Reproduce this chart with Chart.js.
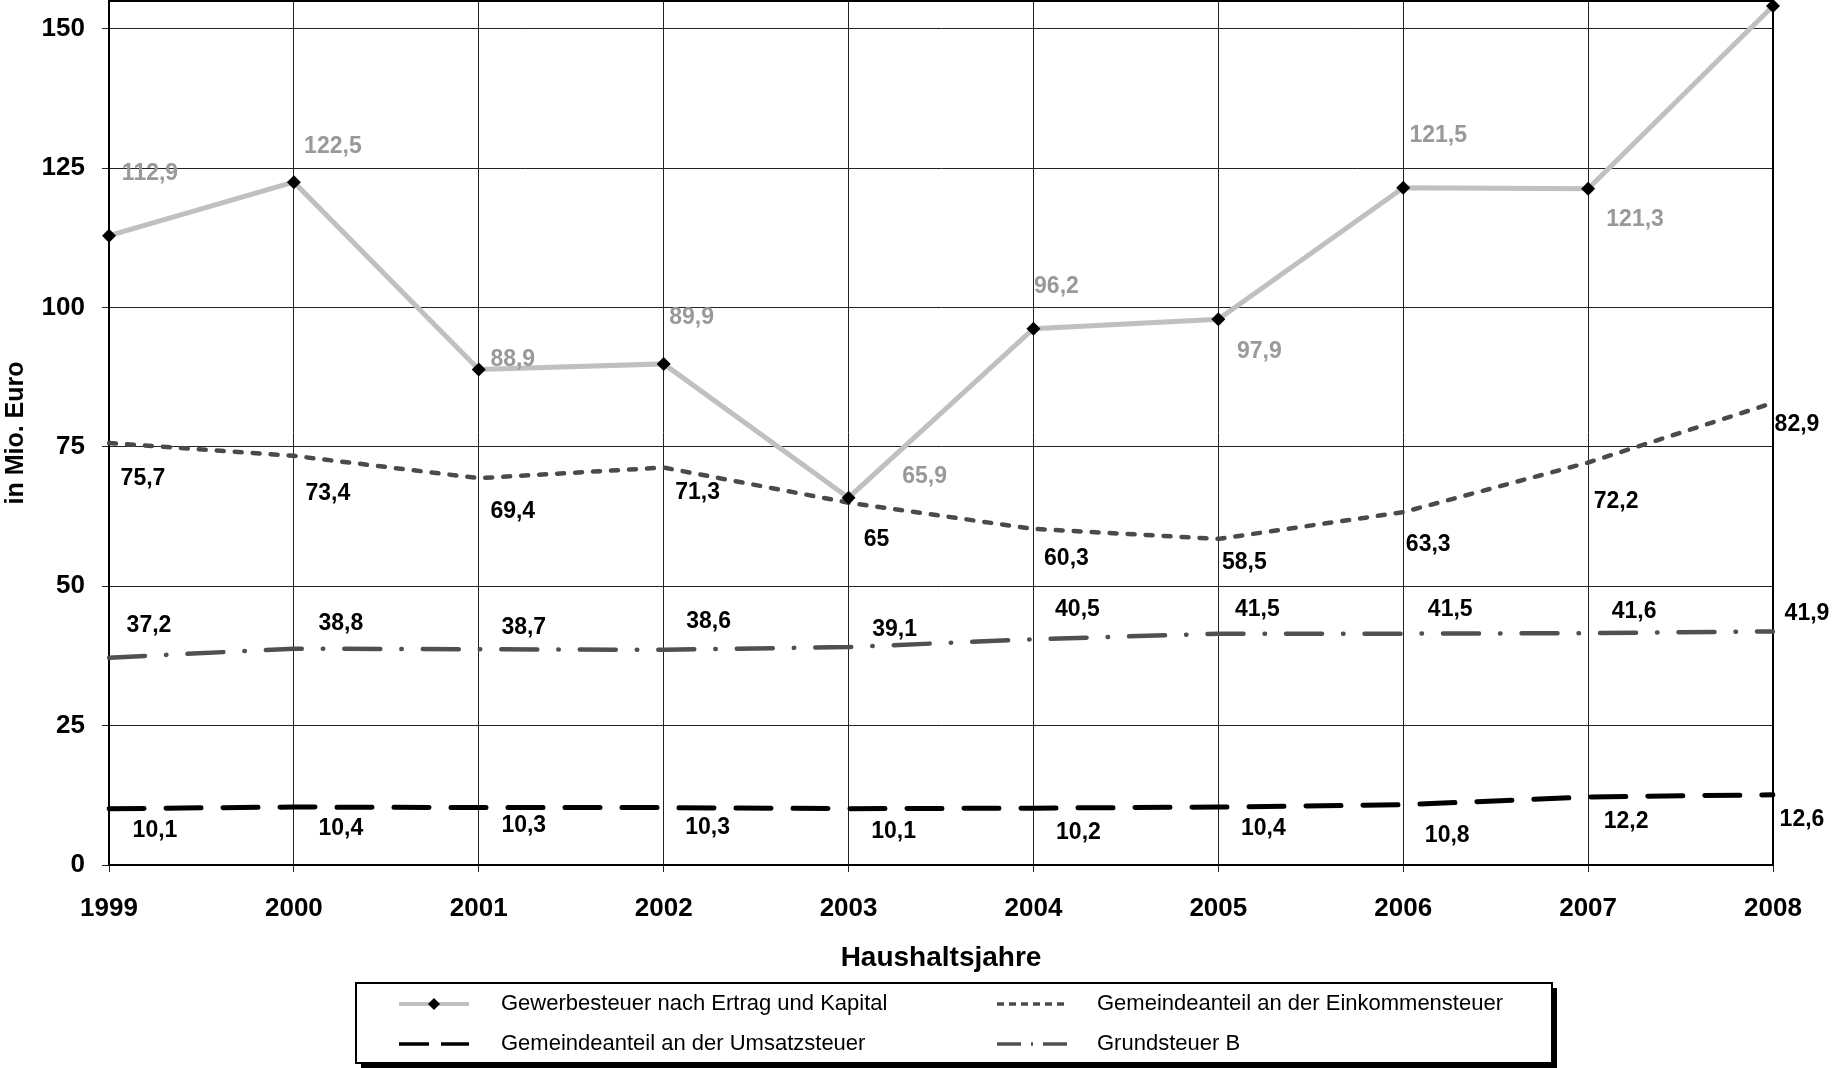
<!DOCTYPE html>
<html>
<head>
<meta charset="utf-8">
<script src="https://cdn.jsdelivr.net/npm/chart.js@4.4.0/dist/chart.umd.min.js"></script>
<style>
  html, body { margin: 0; padding: 0; background: #fff; }
  #wrap { width: 1833px; height: 1068px; position: relative; }
</style>
</head>
<body>
<div id="wrap"><canvas id="steuern"></canvas></div>
<script>
// Haushaltsjahre
const years = ['1999', '2000', '2001', '2002', '2003', '2004', '2005', '2006', '2007', '2008'];

// in Mio. Euro
const gewerbesteuer = [112.9, 122.5, 88.9, 89.9, 65.9, 96.2, 97.9, 121.5, 121.3, 154.1];
const einkommensteuer = [75.7, 73.4, 69.4, 71.3, 65, 60.3, 58.5, 63.3, 72.2, 82.9];
const umsatzsteuer = [10.1, 10.4, 10.3, 10.3, 10.1, 10.2, 10.4, 10.8, 12.2, 12.6];
const grundsteuerB = [37.2, 38.8, 38.7, 38.6, 39.1, 40.5, 41.5, 41.5, 41.6, 41.9];

const yTicks = [0, 25, 50, 75, 100, 125, 150];

// label offsets (px) relative to each point, null = no label
const offGewerbe = [[41,-62],[39,-36],[34,-10],[28,-46],[76,-21],[23,-42],[41,32],[35,-52],[47,31],null];
const offEinkommen = [[34,36],[34,38],[34,34],[34,25],[28,37],[33,30],[26,24],[25,33],[28,39],[24,22]];
const offUmsatz = [[46,22],[47,22],[45,18],[44,20],[45,23],[45,25],[45,22],[44,31],[38,25],[29,25]];
const offGrund = [[40,-32],[47,-25],[45,-22],[45,-28],[46,-17],[44,-30],[39,-24],[47,-24],[46,-21],[34,-18]];

const FONT = "'Liberation Sans', Arial, sans-serif";

const valueLabels = {
    id: 'valueLabels',
    afterDatasetsDraw(chart) {
        const ctx = chart.ctx;
        ctx.save();
        ctx.font = 'bold 23px ' + FONT;
        ctx.textAlign = 'center';
        ctx.textBaseline = 'middle';
        chart.data.datasets.forEach(function(ds, i) {
            const meta = chart.getDatasetMeta(i);
            ds.data.forEach(function(v, j) {
                const off = ds.labelOffsets[j];
                if (!off) return;
                const p = meta.data[j];
                ctx.fillStyle = ds.labelColor;
                ctx.fillText(String(v).replace('.', ','), p.x + off[0], p.y + off[1]);
            });
        });
        ctx.restore();
    }
};

const plotFrame = {
    id: 'plotFrame',
    beforeDatasetsDraw(chart) {
        const a = chart.chartArea;
        const ctx = chart.ctx;
        ctx.save();
        ctx.strokeStyle = '#000';
        ctx.lineWidth = 2;
        ctx.strokeRect(a.left, a.top, a.right - a.left, a.bottom - a.top);
        ctx.restore();
    }
};

// legend box like the original (2 columns, shadow)
const boxLegend = {
    id: 'boxLegend',
    afterDraw(chart) {
        const ctx = chart.ctx;
        const bx = 356, by = 983, bw = 1196, bh = 80;
        ctx.save();
        ctx.fillStyle = '#000';
        ctx.fillRect(bx + 5, by + 5, bw, bh);
        ctx.fillStyle = '#fff';
        ctx.fillRect(bx, by, bw, bh);
        ctx.strokeStyle = '#000';
        ctx.lineWidth = 2;
        ctx.strokeRect(bx, by, bw, bh);

        const items = [
            { ds: 0, x: 399, tx: 501, y: 1004, dash: [] },
            { ds: 1, x: 997, tx: 1097, y: 1004, dash: [7, 5] },
            { ds: 2, x: 399, tx: 501, y: 1044, dash: [30, 12] },
            { ds: 3, x: 997, tx: 1097, y: 1044, dash: [24, 10, 2, 10] }
        ];
        items.forEach(function(it) {
            const ds = chart.data.datasets[it.ds];
            ctx.beginPath();
            ctx.setLineDash(it.dash);
            ctx.lineCap = 'butt';
            ctx.strokeStyle = ds.borderColor;
            ctx.lineWidth = it.ds === 0 ? 4 : 3.5;
            ctx.moveTo(it.x, it.y);
            ctx.lineTo(it.x + 70, it.y);
            ctx.stroke();
            ctx.setLineDash([]);
            if (ds.pointRadius > 0) {
                const cx = it.x + 35, r = 6;
                ctx.fillStyle = '#000';
                ctx.beginPath();
                ctx.moveTo(cx, it.y - r);
                ctx.lineTo(cx + r, it.y);
                ctx.lineTo(cx, it.y + r);
                ctx.lineTo(cx - r, it.y);
                ctx.closePath();
                ctx.fill();
            }
            ctx.fillStyle = '#000';
            ctx.font = '22px ' + FONT;
            ctx.textAlign = 'left';
            ctx.textBaseline = 'middle';
            ctx.fillText(ds.label, it.tx, it.y);
        });
        ctx.restore();
    }
};

const ctx = document.getElementById('steuern').getContext('2d');
const chart = new Chart(ctx, {
    type: 'line',
    data: {
        labels: years,
        datasets: [{
            label: 'Gewerbesteuer nach Ertrag und Kapital',
            data: gewerbesteuer,
            borderColor: '#c0c0c0',
            borderWidth: 5,
            pointStyle: 'rectRot',
            pointRadius: 7,
            pointBackgroundColor: '#000',
            pointBorderColor: '#000',
            pointBorderWidth: 0,
            labelColor: '#999999',
            labelOffsets: offGewerbe,
            clip: false
        }, {
            label: 'Gemeindeanteil an der Einkommensteuer',
            data: einkommensteuer,
            borderColor: '#4a4a4a',
            borderWidth: 4.5,
            borderDash: [7, 11],
            borderCapStyle: 'round',
            pointRadius: 0,
            labelColor: '#000',
            labelOffsets: offEinkommen
        }, {
            label: 'Gemeindeanteil an der Umsatzsteuer',
            data: umsatzsteuer,
            borderColor: '#000',
            borderWidth: 5,
            borderDash: [35, 22],
            borderCapStyle: 'round',
            pointRadius: 0,
            labelColor: '#000',
            labelOffsets: offUmsatz
        }, {
            label: 'Grundsteuer B',
            data: grundsteuerB,
            borderColor: '#505050',
            borderWidth: 4.5,
            borderDash: [36, 21, 0.5, 21],
            borderCapStyle: 'round',
            pointRadius: 0,
            labelColor: '#000',
            labelOffsets: offGrund
        }]
    },
    options: {
        responsive: true,
        maintainAspectRatio: false,
        animation: false,
        layout: { autoPadding: false, padding: { top: 1, right: 60, left: 0, bottom: 0 } },
        elements: { line: { tension: 0 } },
        plugins: {
            legend: { display: false },
            tooltip: { enabled: false }
        },
        scales: {
            x: {
                offset: false,
                grid: { color: '#222', lineWidth: 1, tickLength: 7 },
                border: { color: '#000', width: 2 },
                ticks: {
                    color: '#000',
                    padding: 21,
                    maxRotation: 0,
                    font: { family: FONT, size: 26, weight: 'bold' }
                },
                title: {
                    display: true,
                    text: 'Haushaltsjahre',
                    color: '#000',
                    font: { family: FONT, size: 28, weight: 'bold' },
                    padding: { top: 0, bottom: 93 }
                },
                afterFit: function(scale) { scale.height = 203; }
            },
            y: {
                min: 0,
                max: 155,
                grid: { color: '#222', lineWidth: 1, tickLength: 7 },
                border: { color: '#000', width: 2 },
                ticks: {
                    stepSize: 25,
                    color: '#000',
                    padding: 17,
                    font: { family: FONT, size: 26, weight: 'bold' }
                },
                afterBuildTicks: function(scale) {
                    scale.ticks = yTicks.map(function(v) { return { value: v }; });
                },
                title: {
                    display: true,
                    text: 'in Mio. Euro',
                    color: '#000',
                    font: { family: FONT, size: 25, weight: 'bold' },
                    padding: { top: 1, bottom: 0 }
                },
                afterFit: function(scale) {
                    scale.width = 109;
                    scale.paddingTop = 0;
                    scale.paddingBottom = 0;
                }
            }
        }
    },
    plugins: [plotFrame, valueLabels, boxLegend]
});
</script>
</body>
</html>
